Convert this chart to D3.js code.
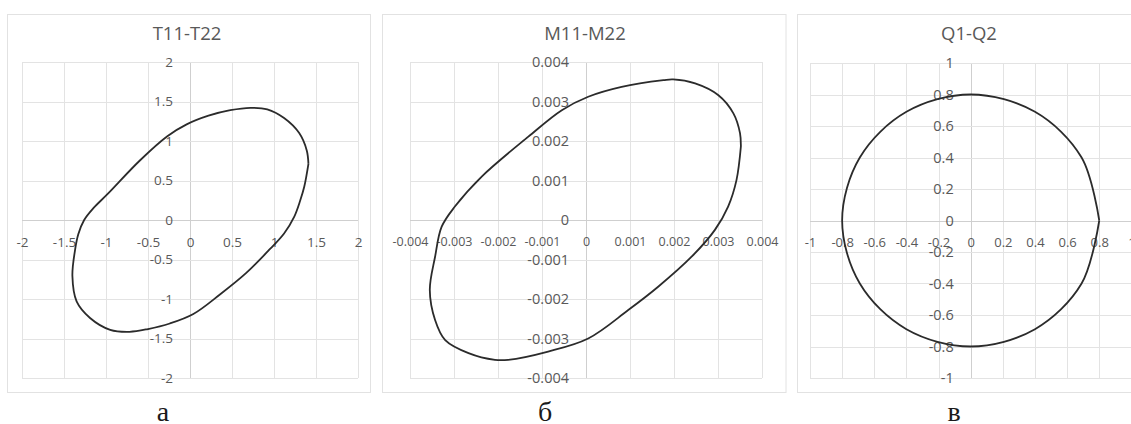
<!DOCTYPE html>
<html>
<head>
<meta charset="utf-8">
<script src="https://cdn.jsdelivr.net/npm/d3@7"></script>
<style>
  body { margin: 0; background: #fff; }
  svg { display: block; }
  .tick text { fill: #595959; font-family: "Open Sans", sans-serif; }
</style>
</head>
<body>
<div class="charts"></div>
<script>
// T11-T22 loop
var t11 = [1.41, 1.36, 1.31, 1.24, 1.12, 0.95, 0.67, 0.36, 0.04, -0.24, -0.50, -0.72, -0.95, -1.19, -1.35, -1.40, -1.37, -1.33, -1.26, -1.15, -0.98, -0.60, -0.27, -0.04, 0.22, 0.48, 0.72, 0.92, 1.12, 1.30, 1.39, 1.41];
var t22 = [0.71, 0.42, 0.24, 0.04, -0.17, -0.37, -0.67, -0.94, -1.19, -1.31, -1.38, -1.415, -1.39, -1.24, -1.03, -0.71, -0.39, -0.18, 0.00, 0.15, 0.33, 0.75, 1.06, 1.21, 1.32, 1.39, 1.42, 1.40, 1.29, 1.10, 0.88, 0.71];

// M11-M22 loop
var m11 = [0.00352, 0.00342, 0.00323, 0.00293, 0.00240, 0.00164, 0.00096, 0.00005, -0.00086, -0.00177, -0.00207, -0.00267, -0.00320, -0.00343, -0.00355, -0.00343, -0.00328, -0.00298, -0.00237, -0.00131, -0.00055, 0.00005, 0.00081, 0.00176, 0.00198, 0.00248, 0.00301, 0.00335, 0.00350, 0.00352];
var m22 = [0.00186, 0.00101, 0.00034, -0.00025, -0.00093, -0.00169, -0.00228, -0.00300, -0.00333, -0.00354, -0.00354, -0.00337, -0.00304, -0.00253, -0.00177, -0.00093, -0.00017, 0.00034, 0.00110, 0.00211, 0.00278, 0.00312, 0.00337, 0.00354, 0.00356, 0.00346, 0.00316, 0.00270, 0.00220, 0.00186];

// Q1-Q2 loop
var q1 = [0.8, 0.69, 0.4, 0, -0.4, -0.69, -0.8, -0.69, -0.4, 0, 0.4, 0.69, 0.8];
var q2 = [0, 0.4, 0.69, 0.8, 0.69, 0.4, 0, -0.4, -0.69, -0.8, -0.69, -0.4, 0];

// tick values
var ticksT = [-2, -1.5, -1, -0.5, 0, 0.5, 1, 1.5, 2];
var ticksM = [-0.004, -0.003, -0.002, -0.001, 0, 0.001, 0.002, 0.003, 0.004];
var ticksQ = [-1, -0.8, -0.6, -0.4, -0.2, 0, 0.2, 0.4, 0.6, 0.8, 1];

var titles = ['T11-T22', 'M11-M22', 'Q1-Q2'];
var captions = ['а', 'б', 'в'];

var width = 1131;
var height = 424;

var svg = d3.select(".charts")
.append("svg")
.attr("width", width)
.attr("height", height);

var panels = [
  { xs: t11, ys: t22, ticks: ticksT, box: [7, 14, 370, 392], plot: [22, 62, 358, 378],
    titleX: 187, capX: 163, xFont: 13.5, yFont: 13.5 },
  { xs: m11, ys: m22, ticks: ticksM, box: [382, 14, 785.5, 392], plot: [410, 62, 762, 378],
    titleX: 585, capX: 545, xFont: 12.5, yFont: 14.5 },
  { xs: q1, ys: q2, ticks: ticksQ, box: [797, 14, 1140, 392], plot: [810, 63, 1131.4, 378],
    titleX: 969, capX: 954, xFont: 13, yFont: 14.5 }
];

function fmt(d) { return String(+d.toFixed(4)); }

panels.forEach(function(p, i) {
  var ext = [p.ticks[0], p.ticks[p.ticks.length - 1]];
  var x = d3.scaleLinear().domain(ext).range([p.plot[0], p.plot[2]]);
  var y = d3.scaleLinear().domain(ext).range([p.plot[3], p.plot[1]]);

  var g = svg.append("g").attr("class", "panel");

  // chart frame
  g.append("rect")
  .attr("x", p.box[0] + 0.5)
  .attr("y", p.box[1] + 0.5)
  .attr("width", p.box[2] - p.box[0])
  .attr("height", p.box[3] - p.box[1])
  .style("fill", "#fff")
  .style("stroke", "#e2e2e2")
  .style("stroke-width", 1);

  // gridlines
  g.append("g").selectAll("line.v")
  .data(p.ticks)
  .enter().append("line")
  .attr("x1", function(d) { return Math.round(x(d)) + 0.5; })
  .attr("x2", function(d) { return Math.round(x(d)) + 0.5; })
  .attr("y1", p.plot[1])
  .attr("y2", p.plot[3])
  .style("stroke", function(d) { return d === 0 ? "#cfcfcf" : "#e3e3e3"; })
  .style("stroke-width", 1);

  g.append("g").selectAll("line.h")
  .data(p.ticks)
  .enter().append("line")
  .attr("y1", function(d) { return Math.round(y(d)) + 0.5; })
  .attr("y2", function(d) { return Math.round(y(d)) + 0.5; })
  .attr("x1", p.plot[0])
  .attr("x2", p.plot[2])
  .style("stroke", function(d) { return d === 0 ? "#cfcfcf" : "#e3e3e3"; })
  .style("stroke-width", 1);

  // axes through zero
  var xAxis = g.append("g")
  .attr("transform", "translate(0," + y(0) + ")")
  .call(d3.axisBottom(x).tickValues(p.ticks).tickSize(0).tickPadding(17).tickFormat(fmt));
  xAxis.select(".domain").remove();
  xAxis.selectAll("text").style("font-size", p.xFont + "px");

  var yAxis = g.append("g")
  .attr("transform", "translate(" + x(0) + ",0)")
  .call(d3.axisLeft(y).tickValues(p.ticks).tickSize(0).tickPadding(17).tickFormat(fmt));
  yAxis.select(".domain").remove();
  yAxis.selectAll("text").style("font-size", p.yFont + "px");

  // curve
  var pts = p.xs.map(function(v, k) { return [v, p.ys[k]]; });
  var line = d3.line()
  .x(function(d) { return x(d[0]); })
  .y(function(d) { return y(d[1]); })
  .curve(d3.curveCatmullRom.alpha(0.5));

  g.append("path")
  .datum(pts)
  .attr("d", line)
  .style("fill", "none")
  .style("stroke", "#2b2b2b")
  .style("stroke-width", 1.8);

  // title
  g.append("text")
  .attr("x", p.titleX)
  .attr("y", 40)
  .attr("text-anchor", "middle")
  .style("font-family", "'Open Sans', sans-serif")
  .style("font-size", "18.5px")
  .style("fill", "#595959")
  .text(titles[i]);

  // caption under chart
  svg.append("text")
  .attr("x", p.capX)
  .attr("y", 421)
  .attr("text-anchor", "middle")
  .style("font-family", "'Liberation Serif', serif")
  .style("font-size", "28px")
  .style("fill", "#1a1a1a")
  .text(captions[i]);
});
</script>
</body>
</html>
